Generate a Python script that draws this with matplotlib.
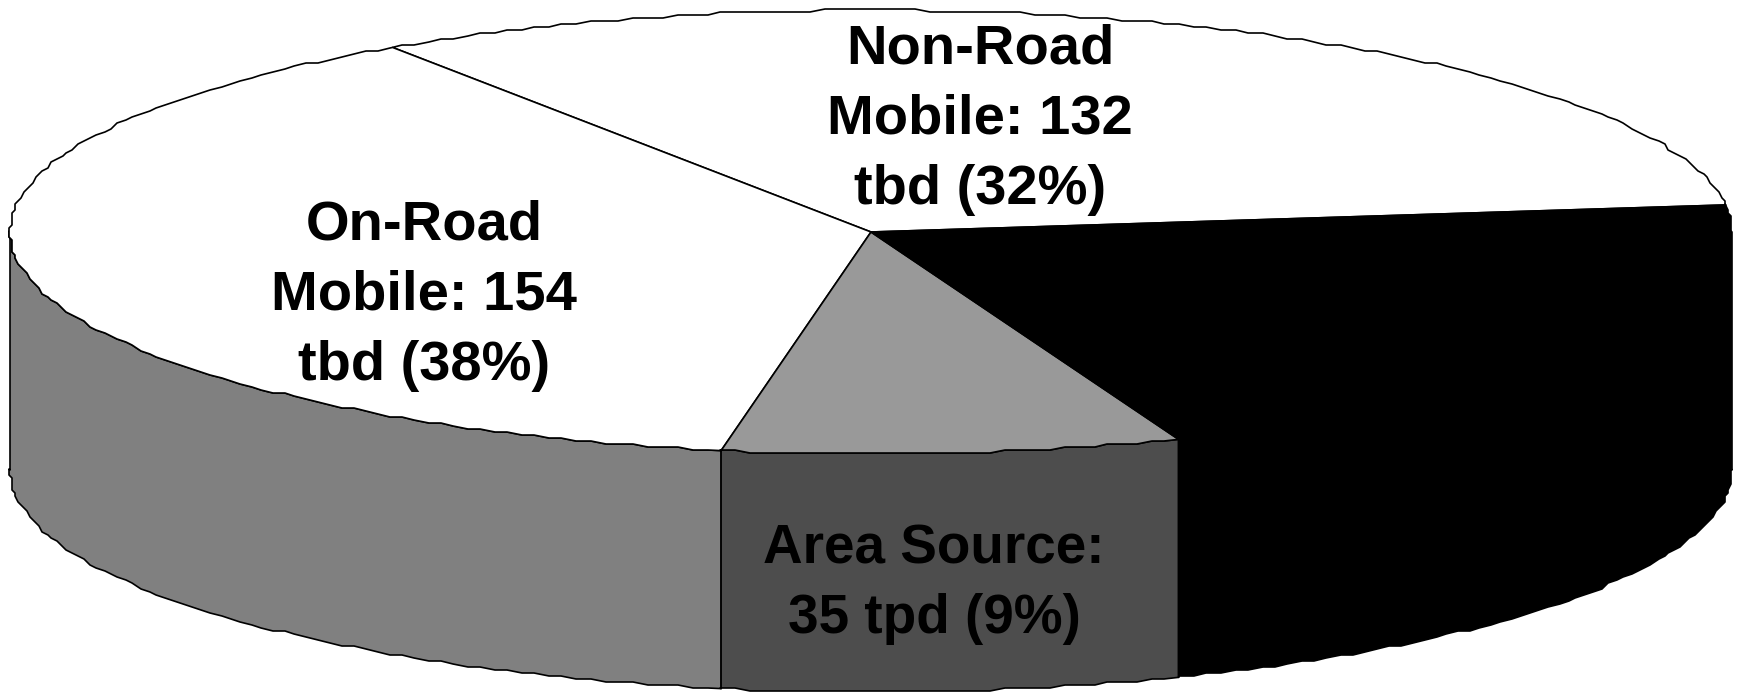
import numpy as np
import matplotlib
matplotlib.use("Agg")
import matplotlib.pyplot as plt
from matplotlib.patches import Polygon

plt.rcParams["font.family"] = ["Liberation Sans", "DejaVu Sans"]

# tons per day, counter-clockwise from the start angle; last one is the unlabelled black slice
categories = ["Non-Road Mobile", "On-Road Mobile", "Area Source", "Other"]
values = [132, 154, 35, 86]
top_colors = ["#ffffff", "#ffffff", "#999999", "#000000"]
side_colors = ["#ffffff", "#808080", "#4d4d4d", "#000000"]
labels = [
    ["Non-Road", "Mobile: 132", "tbd (32%)"],
    ["On-Road", "Mobile: 154", "tbd (38%)"],
    ["Area Source:", "35 tpd (9%)"],
    [],
]
label_x = [980, 424, 934, 0]
label_base = [64, 240, 563, 0]
label_size = [40.4, 40.4, 39.5, 40]

START = 7.0
CX, CY = 871, 232
RX, RY = 861, 222
DEPTH = 238
GRID = 3.0
W, H = 1742, 693


def rim(t1, t2):
    # the source has a coarse outline, so snap the ellipse to a grid
    # whole degrees only, so that top and side share the same vertices
    t = np.arange(np.ceil(t1), np.floor(t2) + 1, 1.0)
    x = CX + RX * np.cos(np.radians(t))
    y = CY - RY * np.sin(np.radians(t))
    x = np.round(x / GRID) * GRID
    y = np.round(y / GRID) * GRID
    # exact ends for the slice corners
    x = np.concatenate([[CX + RX * np.cos(np.radians(t1))], x, [CX + RX * np.cos(np.radians(t2))]])
    y = np.concatenate([[CY - RY * np.sin(np.radians(t1))], y, [CY - RY * np.sin(np.radians(t2))]])
    return x, y


fig = plt.figure(figsize=(W / 100, H / 100), dpi=100)
ax = fig.add_axes([0, 0, 1, 1])
ax.set_xlim(0, W)
ax.set_ylim(H, 0)
ax.axis("off")

edges = np.cumsum([0] + values) / sum(values) * 360 + START

# sides first, only the front half of the rim shows
for i in range(len(values)):
    a = max(edges[i], 180)
    b = min(edges[i + 1], 360)
    if b <= a:
        continue
    x, y = rim(a, b)
    xs = np.concatenate([x, x[::-1]])
    ys = np.concatenate([y, (y + DEPTH)[::-1]])
    ax.add_patch(Polygon(np.column_stack([xs, ys]), closed=True, fc=side_colors[i],
                         ec="black", lw=1.2, joinstyle="round"))

# top face
for i in range(len(values)):
    x, y = rim(edges[i], edges[i + 1])
    xs = np.concatenate([[CX], x])
    ys = np.concatenate([[CY], y])
    ax.add_patch(Polygon(np.column_stack([xs, ys]), closed=True, fc=top_colors[i],
                         ec="black", lw=1.2, joinstyle="round"))

for i, lines in enumerate(labels):
    for j, line in enumerate(lines):
        ax.text(label_x[i], label_base[i] + j * 70, line, ha="center", va="baseline",
                fontsize=label_size[i], fontweight="bold", color="black")

fig.savefig("out.png", dpi=100, facecolor="white")
